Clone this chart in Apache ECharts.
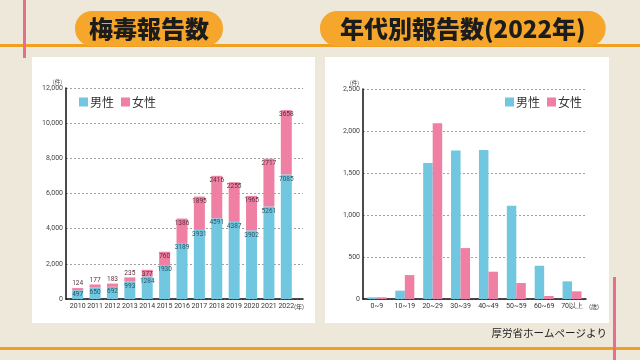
<!DOCTYPE html>
<html>
<head>
<meta charset="utf-8">
<script src="https://cdn.jsdelivr.net/npm/echarts@6/dist/echarts.min.js"></script>
<style>html,body{margin:0;padding:0;background:#eee8da;}#c{width:640px;height:360px;}</style>
</head>
<body>
<div id="c"></div>
<script>
const years = ['2010','2011','2012','2013','2014','2015','2016','2017','2018','2019','2020','2021','2022'];
const maleByYear = [497,650,692,993,1284,1930,3189,3931,4591,4387,3902,5261,7085];
const femaleByYear = [124,177,183,235,377,760,1386,1895,2416,2255,1965,2717,3658];
const ageGroups = ['0~9','10~19','20~29','30~39','40~49','50~59','60~69','70以上'];
const maleByAge = [20,99,1620,1767,1775,1109,396,210];
const femaleByAge = [20,285,2092,606,325,190,36,91];
const seriesNames = ['男性','女性'];
const titleLeft = '梅毒報告数';
const titleRight = '年代別報告数(2022年)';
const sourceText = '厚労省ホームページより';

const BLUE = '#70c7df', PINK = '#ef80a3';
const numFont = '"Liberation Sans Narrow", Roboto, sans-serif';
const jpFont = '"Noto Sans CJK JP", sans-serif';

const chart = echarts.init(document.getElementById('c'), null, {renderer:'canvas'});
const fmt = v => v.toLocaleString('en-US');

const femaleData = femaleByYear.map(v => ({
  value: v,
  label: {position: v < 300 ? 'top' : 'insideTop'}
}));

const yAxisVisible = (grid, max, interval) => ({
  type:'value', gridIndex: grid, min:0, max:max, interval:interval, z:3,
  axisLine:{show:true, lineStyle:{color:'#111', width:1.5}},
  axisTick:{show:false},
  axisLabel:{fontSize:7, color:'#444', margin:3, fontFamily:numFont, formatter: fmt},
  splitLine:{show:true, lineStyle:{color:'#888', type:[2,2], width:0.8}},
  name:'(件)', nameLocation:'end', nameGap:3,
  nameTextStyle:{fontSize:5.5, color:'#444', align:'right', padding:[0,4,0,0], fontFamily:jpFont}
});

chart.setOption({
  backgroundColor:'#eee8da',
  animation:false,
  graphic:[
    {type:'rect', z:-10, shape:{x:0,y:44,width:640,height:3}, style:{fill:'#f0a020'}},
    {type:'rect', z:-10, shape:{x:0,y:347,width:640,height:3}, style:{fill:'#f0a020'}},
    {type:'rect', z:-10, shape:{x:23,y:0,width:3,height:58}, style:{fill:'#e46f8e'}},
    {type:'rect', z:-10, shape:{x:613,y:277,width:3,height:83}, style:{fill:'#e46f8e'}},
    {type:'rect', z:-9, shape:{x:32,y:57,width:283,height:266}, style:{fill:'#ffffff'}},
    {type:'rect', z:-9, shape:{x:325,y:57,width:284,height:266}, style:{fill:'#ffffff'}}
  ],
  title:[
    {text:titleLeft, left:75, top:11, backgroundColor:'#f5a62b', borderRadius:17, padding:[5,14,4,14],
     textStyle:{fontSize:24, fontWeight:900, color:'#1c1c1c', fontFamily:jpFont, lineHeight:26}},
    {text:titleRight, left:320, top:11, backgroundColor:'#f5a62b', borderRadius:17, padding:[5,20,4,20],
     textStyle:{fontSize:24, fontWeight:900, color:'#1c1c1c', fontFamily:jpFont, lineHeight:26}},
    {text:sourceText, right:33, top:328, padding:0,
     textStyle:{fontSize:10.5, fontWeight:'normal', color:'#222', fontFamily:jpFont}}
  ],
  legend:[
    {data:seriesNames, left:79, top:96, icon:'rect', itemWidth:9, itemHeight:9, itemGap:7, padding:0,
     textStyle:{fontSize:12, color:'#333', fontFamily:jpFont, padding:[0,0,0,-3]}},
    {data:seriesNames, left:505, top:96, icon:'rect', itemWidth:9, itemHeight:9, itemGap:7, padding:0,
     textStyle:{fontSize:12, color:'#333', fontFamily:jpFont, padding:[0,0,0,-3]}}
  ],
  grid:[
    {left:69, top:88, width:226, height:211},
    {left:66, top:88, width:237, height:211},
    {left:363, top:89, width:223, height:210}
  ],
  xAxis:[
    {type:'category', gridIndex:0, data:years, axisLine:{show:false}, axisTick:{show:false}, z:3,
     axisLabel:{fontSize:7, color:'#333', margin:4, interval:0, fontFamily:numFont}},
    {type:'value', gridIndex:1, min:0, max:1, z:3, axisLine:{show:true, lineStyle:{color:'#111', width:1.5}},
     axisTick:{show:false}, axisLabel:{show:false}, splitLine:{show:false},
     name:'(年)', nameLocation:'end', nameGap:1,
     nameTextStyle:{fontSize:6, color:'#333', align:'right', verticalAlign:'top', padding:[5,0,0,0], fontFamily:jpFont}},
    {type:'category', gridIndex:2, data:ageGroups, z:3, axisLine:{show:true, lineStyle:{color:'#111', width:1.5}},
     axisTick:{show:false}, axisLabel:{fontSize:7, color:'#333', margin:4, interval:0, fontFamily:numFont},
     name:'(歳)', nameLocation:'end', nameGap:3,
     nameTextStyle:{fontSize:6, color:'#333', align:'right', verticalAlign:'top', padding:[5,0,0,0], fontFamily:jpFont}}
  ],
  yAxis:[
    {type:'value', gridIndex:0, min:0, max:12000, interval:2000, show:false, splitLine:{show:false}},
    yAxisVisible(1, 12000, 2000),
    yAxisVisible(2, 2500, 500)
  ],
  series:[
    {name:seriesNames[0], type:'bar', xAxisIndex:0, yAxisIndex:0, stack:'y', barWidth:11, z:3,
     itemStyle:{color:BLUE}, data:maleByYear,
     label:{show:true, position:'insideTop', distance:1, fontSize:6.5, color:'#2b5566', fontFamily:numFont}},
    {name:seriesNames[1], type:'bar', xAxisIndex:0, yAxisIndex:0, stack:'y', barWidth:11, z:3,
     itemStyle:{color:PINK}, data:femaleData,
     label:{show:true, distance:1, fontSize:6.5, color:'#5a2c3c', fontFamily:numFont}},
    {name:seriesNames[0], type:'bar', xAxisIndex:2, yAxisIndex:2, barWidth:9.5, barGap:'0%', z:3,
     itemStyle:{color:BLUE}, data:maleByAge},
    {name:seriesNames[1], type:'bar', xAxisIndex:2, yAxisIndex:2, barWidth:9.5, barGap:'0%', z:3,
     itemStyle:{color:PINK}, data:femaleByAge}
  ]
});
</script>
</body>
</html>
